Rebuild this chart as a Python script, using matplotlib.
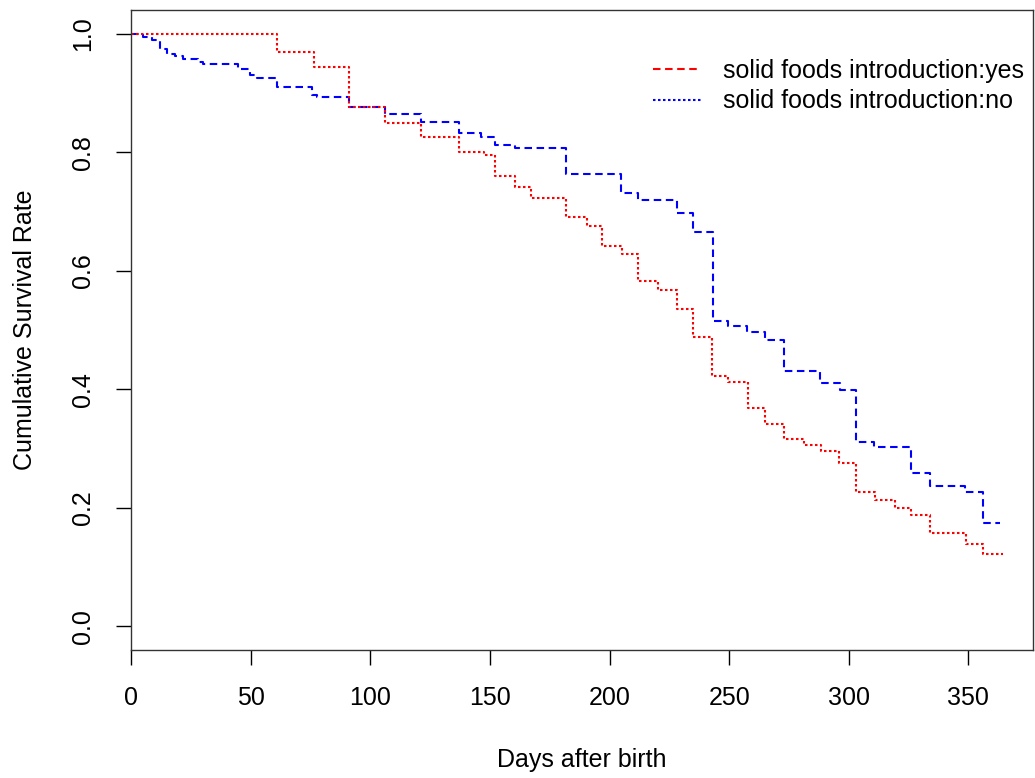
import numpy as np
import matplotlib.pyplot as plt

plt.rcParams['font.family'] = ['Liberation Sans', 'DejaVu Sans']

# step times (days) and survival after each step
days_yes = [0, 61, 76.3, 91, 106, 121, 137.2, 147.6, 152, 160.7, 167, 182, 190.4,
            197, 205.3, 212, 220.2, 228.3, 235, 243, 249.5, 258, 265, 273, 281.3,
            288.5, 296, 303, 311, 319.2, 326, 334, 349, 356, 364.3]
surv_yes = [1.0, 0.969, 0.944, 0.876, 0.850, 0.825, 0.801, 0.796, 0.760, 0.742, 0.722,
            0.690, 0.675, 0.642, 0.628, 0.582, 0.568, 0.536, 0.488, 0.423, 0.413,
            0.369, 0.341, 0.316, 0.306, 0.296, 0.275, 0.226, 0.213, 0.199, 0.188,
            0.158, 0.139, 0.122, 0.122]

days_no = [0, 5.2, 8.7, 12.1, 14.9, 18.4, 21.9, 28.2, 30.3, 44.9, 49.8, 52.6, 61,
           75.6, 77.7, 91, 106.3, 121, 137.2, 146.3, 152, 160.7, 182, 205, 212,
           228.3, 235, 243.2, 249.5, 257.6, 265, 273, 288, 296.5, 303, 310.6, 326,
           334, 348.7, 356, 363]
surv_no = [1.0, 0.995, 0.989, 0.975, 0.966, 0.962, 0.958, 0.952, 0.949, 0.941, 0.930,
           0.926, 0.910, 0.896, 0.893, 0.876, 0.865, 0.851, 0.832, 0.825, 0.8125,
           0.807, 0.7635, 0.731, 0.7196, 0.698, 0.665, 0.516, 0.506, 0.496, 0.483,
           0.430, 0.410, 0.3985, 0.311, 0.303, 0.258, 0.237, 0.226, 0.174, 0.174]

xticks = [0, 50, 100, 150, 200, 250, 300, 350]
yticks = [0.0, 0.2, 0.4, 0.6, 0.8, 1.0]

fig = plt.figure(figsize=(10.35, 7.78), dpi=100)
ax = fig.add_axes([131/1035, 1 - 650/778, (1033 - 131)/1035, 640/778])

ax.step(days_no, surv_no, where='post', color='blue', lw=1.5, linestyle=(0, (3.6, 2.2)))
ax.step(days_yes, surv_yes, where='post', color='red', lw=1.5, linestyle=(0, (1.2, 1.2)))

# legend styles as in the original (swapped relative to the curves)
ax.plot([], [], color='red', lw=1.5, linestyle=(0, (3.6, 2.2)),
        label='solid foods introduction:yes')
ax.plot([], [], color='blue', lw=1.5, linestyle=(0, (1.2, 1.2)),
        label='solid foods introduction:no')
handles, labels = ax.get_legend_handles_labels()
ax.legend(handles[-2:], labels[-2:], loc='upper right', frameon=False, fontsize=18,
          bbox_to_anchor=(1024/1035, 1 - 59/778), bbox_transform=fig.transFigure,
          borderpad=0, borderaxespad=0, handlelength=1.9, handletextpad=0.9,
          labelspacing=0.26)

ax.set_xlim(0, 377)
ax.set_ylim(-0.04, 1.04)
ax.set_xticks(xticks)
ax.set_yticks(yticks)
ax.set_yticklabels([f"{v:.1f}" for v in yticks], rotation=90, va='center')
ax.tick_params(labelsize=18, length=11, width=1, pad=15, colors='black')

for s in ax.spines.values():
    s.set_linewidth(1.0)
    s.set_color('#333333')

ax.set_xlabel('Days after birth', fontsize=18, va='center')
ax.xaxis.set_label_coords(0.5, -0.172)
ax.set_ylabel('Cumulative Survival Rate', fontsize=18, va='center')
ax.yaxis.set_label_coords(-0.1175, 0.5)

fig.savefig('out.png', dpi=100, facecolor='white')
